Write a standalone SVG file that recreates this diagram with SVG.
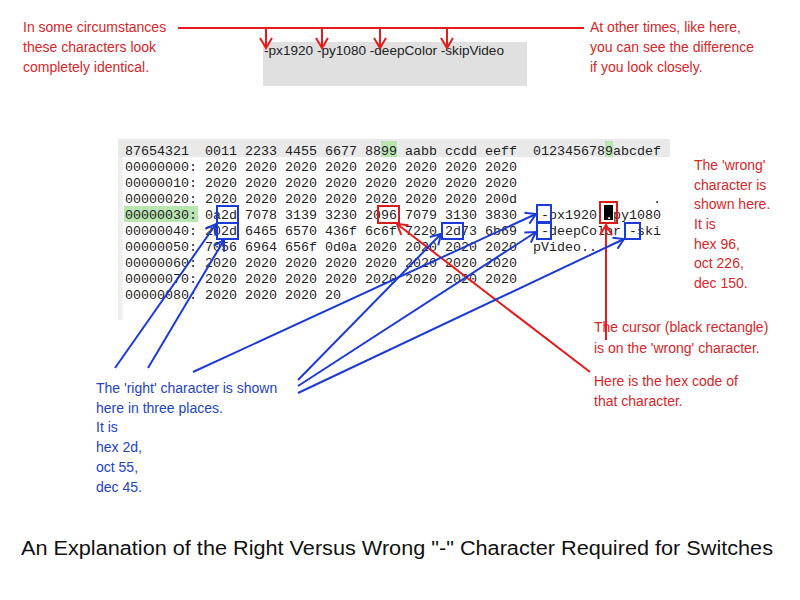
<svg xmlns="http://www.w3.org/2000/svg" width="800" height="600" viewBox="0 0 800 600">
<style>
.red{font-family:"Liberation Sans",Arial,sans-serif;font-size:14px;fill:#d8262a}
.blue{font-family:"Liberation Sans",Arial,sans-serif;font-size:14px;fill:#2244c0}
.mono{font-family:"Liberation Mono","Courier New",monospace;font-size:13.333px;fill:#222;white-space:pre}
.rl{stroke:#e41c1c;stroke-width:2;fill:none}
.bl{stroke:#1c3ad6;stroke-width:2;fill:none}
.rbox{stroke:#d81c1c;stroke-width:2;fill:none}
.bbox{stroke:#1c3ad6;stroke-width:2;fill:none}
</style>
<defs>
<marker id="rh" viewBox="-12 -8 14 16" markerWidth="14" markerHeight="16" refX="0" refY="0" orient="auto" markerUnits="userSpaceOnUse">
<path d="M-10,-6 L0,0 L-10,6" fill="none" stroke="#e41c1c" stroke-width="2"/>
</marker>
<marker id="bh" viewBox="-12 -8 14 16" markerWidth="14" markerHeight="16" refX="0" refY="0" orient="auto" markerUnits="userSpaceOnUse">
<path d="M-10,-6 L0,0 L-10,6" fill="none" stroke="#1c3ad6" stroke-width="2"/>
</marker>
</defs>
<rect width="800" height="600" fill="#fff"/>

<g id="code-box">
<rect x="263" y="42" width="264" height="44" fill="#e0e0e0"/>
<text x="264" y="55" font-family="Liberation Sans,Arial,sans-serif" font-size="12.5" fill="#222" textLength="240" lengthAdjust="spacingAndGlyphs">-px1920 -py1080 -deepColor -skipVideo</text>
</g>

<g id="note-identical">
<text class="red" x="23" y="32">In some circumstances</text>
<text class="red" x="23" y="52">these characters look</text>
<text class="red" x="23" y="72">completely identical.</text>
</g>

<g id="note-difference">
<text class="red" x="590" y="32">At other times, like here,</text>
<text class="red" x="590" y="52">you can see the difference</text>
<text class="red" x="590" y="72">if you look closely.</text>
</g>

<g id="hex-panel">
<rect x="118" y="139" width="552" height="18" fill="#e9e9e9"/>
<rect x="118" y="157" width="5" height="163" fill="#efefef"/>
<rect x="381" y="141" width="16" height="16" fill="#b9e5b1"/>
<rect x="605" y="141" width="8" height="16" fill="#b9e5b1"/>
<rect x="124" y="206" width="74" height="16" fill="#b9e5b1"/>
<rect x="604" y="205" width="9" height="15" fill="#000"/>
<text class="mono" xml:space="preserve" x="125" y="154.5">87654321  0011 2233 4455 6677 8899 aabb ccdd eeff  0123456789abcdef</text>
<text class="mono" xml:space="preserve" x="125" y="170.5">00000000: 2020 2020 2020 2020 2020 2020 2020 2020</text>
<text class="mono" xml:space="preserve" x="125" y="186.5">00000010: 2020 2020 2020 2020 2020 2020 2020 2020</text>
<text class="mono" xml:space="preserve" x="125" y="202.5">00000020: 2020 2020 2020 2020 2020 2020 2020 200d                 .</text>
<text class="mono" xml:space="preserve" x="125" y="218.5">00000030: 0a2d 7078 3139 3230 2096 7079 3130 3830   -px1920 <tspan fill="#fff">.</tspan>py1080</text>
<text class="mono" xml:space="preserve" x="125" y="234.5">00000040: 202d 6465 6570 436f 6c6f 7220 2d73 6b69   -deepColor -ski</text>
<text class="mono" xml:space="preserve" x="125" y="250.5">00000050: 7056 6964 656f 0d0a 2020 2020 2020 2020  pVideo..</text>
<text class="mono" xml:space="preserve" x="125" y="266.5">00000060: 2020 2020 2020 2020 2020 2020 2020 2020</text>
<text class="mono" xml:space="preserve" x="125" y="282.5">00000070: 2020 2020 2020 2020 2020 2020 2020 2020</text>
<text class="mono" xml:space="preserve" x="125" y="298.5">00000080: 2020 2020 2020 20</text>
<rect class="bbox" x="217" y="206" width="21" height="17"/>
<rect class="bbox" x="217" y="223" width="21" height="16"/>
<rect class="bbox" x="442" y="223" width="21" height="16"/>
<rect class="bbox" x="537" y="205" width="14" height="17"/>
<rect class="bbox" x="537" y="223" width="14" height="16"/>
<rect class="bbox" x="625" y="223" width="15" height="16"/>
<rect class="rbox" x="378" y="206" width="21" height="17"/>
<rect class="rbox" x="600" y="202" width="17" height="21"/>
</g>

<g id="note-wrong">
<text class="red" x="694" y="170">The 'wrong'</text>
<text class="red" x="694" y="190">character is</text>
<text class="red" x="694" y="209">shown here.</text>
<text class="red" x="694" y="229">It is</text>
<text class="red" x="694" y="249">hex 96,</text>
<text class="red" x="694" y="268">oct 226,</text>
<text class="red" x="694" y="288">dec 150.</text>
</g>

<g id="note-cursor">
<text class="red" x="594" y="332">The cursor (black rectangle)</text>
<text class="red" x="594" y="353">is on the 'wrong' character.</text>
</g>

<g id="note-hexcode">
<text class="red" x="594" y="386">Here is the hex code of</text>
<text class="red" x="594" y="406">that character.</text>
</g>

<g id="note-right">
<text class="blue" x="96" y="393">The 'right' character is shown</text>
<text class="blue" x="96" y="413">here in three places.</text>
<text class="blue" x="96" y="432">It is</text>
<text class="blue" x="96" y="452">hex 2d,</text>
<text class="blue" x="96" y="472">oct 55,</text>
<text class="blue" x="96" y="492">dec 45.</text>
</g>

<g id="title">
<text x="397" y="555" text-anchor="middle" font-family="Liberation Sans,Arial,sans-serif" font-size="20" fill="#111" textLength="752" lengthAdjust="spacingAndGlyphs">An Explanation of the Right Versus Wrong "-" Character Required for Switches</text>
</g>

<g id="connectors">
<line class="rl" x1="178" y1="28" x2="584" y2="28"/>
<line class="rl" x1="266" y1="28" x2="266" y2="48" marker-end="url(#rh)"/>
<line class="rl" x1="322" y1="28" x2="322" y2="48" marker-end="url(#rh)"/>
<line class="rl" x1="380" y1="28" x2="380" y2="48" marker-end="url(#rh)"/>
<line class="rl" x1="447" y1="28" x2="447" y2="48" marker-end="url(#rh)"/>
<line class="rl" x1="590" y1="372" x2="397" y2="224" marker-end="url(#rh)"/>
<line class="rl" x1="606" y1="340" x2="606" y2="225" marker-end="url(#rh)"/>
<line class="bl" x1="115" y1="368" x2="216" y2="224" marker-end="url(#bh)"/>
<line class="bl" x1="148" y1="368" x2="224" y2="240" marker-end="url(#bh)"/>
<line class="bl" x1="193" y1="372" x2="536" y2="214" marker-end="url(#bh)"/>
<line class="bl" x1="298" y1="380" x2="441" y2="234" marker-end="url(#bh)"/>
<line class="bl" x1="298" y1="386" x2="536" y2="232" marker-end="url(#bh)"/>
<line class="bl" x1="298" y1="393" x2="624" y2="239" marker-end="url(#bh)"/>
</g>
</svg>
